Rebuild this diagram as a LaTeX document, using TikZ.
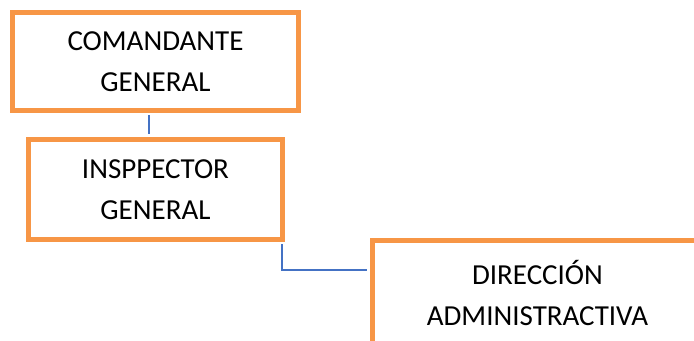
\documentclass[tikz,border=0pt]{standalone}
\usepackage{fontspec}
\setmainfont{Carlito}
\usetikzlibrary{positioning}
\definecolor{boxorange}{RGB}{247,150,70}
\definecolor{lineblue}{RGB}{68,114,196}
\tikzset{
    block/.style = {
        draw=boxorange,
        line width=3.75pt,
        fill=white,
        rectangle,
        align=center,
        font=\fontsize{21.75pt}{30.75pt}\selectfont
    },
    link/.style = {
        draw=lineblue,
        line width=1.5pt,
        shorten <=1.9pt,
        shorten >=1.9pt
    }
}

\begin{document}
\begin{tikzpicture}[auto, node distance=96pt]
    \useasboundingbox (0,0) rectangle (520.5pt,-255.75pt);
    % nodes
    \node [block, minimum width=214.5pt, minimum height=73.5pt] (comandante) at (116.6pt,-46.1pt) {COMANDANTE\\GENERAL};
    \node [block, minimum width=190pt, minimum height=75pt, below of=comandante] (inspector) {INSPPECTOR\\GENERAL};
    \node [block, minimum width=247.5pt, minimum height=79.5pt] (direccion) at (403.1pt,-220.1pt) {DIRECCIÓN\\ADMINISTRACTIVA};
    % lines
    \draw [link] ([xshift=-5pt]comandante.south) -- ([xshift=-5pt]comandante.south |- inspector.north);
    \draw [link] ([xshift=-2.25pt]inspector.south east) |- ([yshift=-24pt]direccion.north west);
\end{tikzpicture}
\end{document}
